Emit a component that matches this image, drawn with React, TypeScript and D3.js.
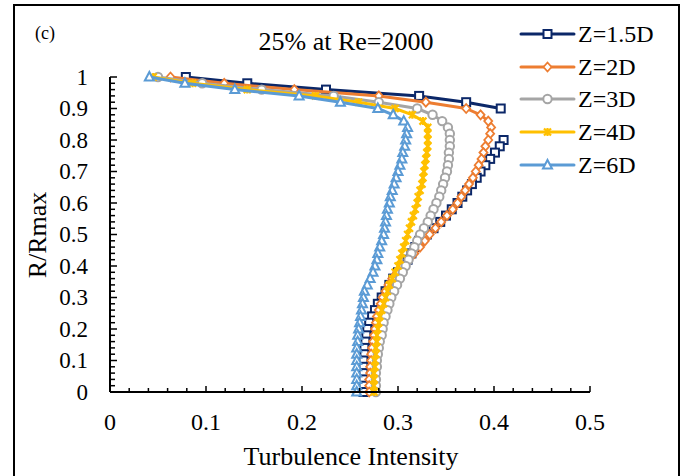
import React from "react";
import * as d3 from "d3";

const R = [1.0, 0.98, 0.96, 0.94, 0.92, 0.9, 0.88, 0.86, 0.84, 0.82, 0.8, 0.78, 0.76, 0.74, 0.72, 0.7, 0.68, 0.66, 0.64, 0.62, 0.6, 0.58, 0.56, 0.54, 0.52, 0.5, 0.48, 0.46, 0.44, 0.42, 0.4, 0.38, 0.36, 0.34, 0.32, 0.3, 0.28, 0.26, 0.24, 0.22, 0.2, 0.18, 0.16, 0.14, 0.12, 0.1, 0.08, 0.06, 0.04, 0.02, 0.0];

const Z15: (number | null)[] = [0.079, 0.143, 0.225, 0.322, 0.371, 0.407, null, null, null, null, 0.41, 0.406, 0.401, 0.396, 0.391, 0.386, 0.382, 0.377, 0.372, 0.367, 0.362, 0.356, 0.35, 0.344, 0.337, 0.33, 0.322, 0.318, 0.314, 0.31, 0.305, 0.3, 0.295, 0.291, 0.287, 0.283, 0.279, 0.276, 0.273, 0.27, 0.268, 0.267, 0.266, 0.265, 0.265, 0.264, 0.264, 0.264, 0.264, 0.264, 0.264];
const Z2: (number | null)[] = [0.063, 0.119, 0.192, 0.28, 0.329, 0.371, 0.386, 0.394, 0.397, 0.396, 0.394, 0.391, 0.389, 0.387, 0.384, 0.381, 0.378, 0.374, 0.37, 0.366, 0.362, 0.357, 0.351, 0.345, 0.339, 0.333, 0.328, 0.323, 0.317, 0.311, 0.305, 0.299, 0.294, 0.29, 0.287, 0.284, 0.282, 0.28, 0.278, 0.277, 0.276, 0.275, 0.274, 0.273, 0.272, 0.272, 0.271, 0.271, 0.27, 0.27, 0.27];
const Z3: (number | null)[] = [0.05, 0.096, 0.158, 0.233, 0.28, 0.32, 0.336, 0.346, 0.352, 0.354, 0.354, 0.354, 0.353, 0.353, 0.352, 0.351, 0.349, 0.347, 0.345, 0.343, 0.34, 0.337, 0.334, 0.331, 0.327, 0.323, 0.32, 0.317, 0.314, 0.311, 0.308, 0.305, 0.302, 0.299, 0.296, 0.293, 0.291, 0.289, 0.287, 0.285, 0.284, 0.283, 0.281, 0.28, 0.279, 0.278, 0.278, 0.277, 0.277, 0.277, 0.277];
const Z4: (number | null)[] = [0.045, 0.086, 0.143, 0.214, 0.259, 0.297, 0.315, 0.326, 0.331, 0.331, 0.331, 0.331, 0.33, 0.329, 0.328, 0.327, 0.326, 0.325, 0.323, 0.321, 0.32, 0.318, 0.316, 0.314, 0.312, 0.31, 0.308, 0.306, 0.304, 0.302, 0.3, 0.297, 0.294, 0.291, 0.289, 0.287, 0.285, 0.283, 0.281, 0.28, 0.279, 0.278, 0.278, 0.277, 0.277, 0.276, 0.276, 0.275, 0.275, 0.275, 0.275];
const Z6: (number | null)[] = [0.041, 0.078, 0.13, 0.197, 0.24, 0.279, 0.295, 0.306, 0.31, 0.309, 0.308, 0.307, 0.305, 0.304, 0.302, 0.3, 0.298, 0.296, 0.294, 0.292, 0.291, 0.289, 0.288, 0.287, 0.286, 0.285, 0.283, 0.281, 0.279, 0.278, 0.276, 0.274, 0.271, 0.268, 0.265, 0.264, 0.263, 0.262, 0.261, 0.26, 0.259, 0.258, 0.258, 0.257, 0.257, 0.257, 0.257, 0.257, 0.257, 0.257, 0.257];

const SERIES_NAMES = ["Z=1.5D", "Z=2D", "Z=3D", "Z=4D", "Z=6D"];
const SERIES_VALUES = [Z15, Z2, Z3, Z4, Z6];
const COLORS = ["#0B2768", "#ED7D31", "#A5A5A5", "#FFC000", "#5B9BD5"];
const MARKERS = ["square", "diamond", "circle", "star", "triangle"];

const X_TICKS = [0, 0.1, 0.2, 0.3, 0.4, 0.5];
const Y_TICKS = [0, 0.1, 0.2, 0.3, 0.4, 0.5, 0.6, 0.7, 0.8, 0.9, 1];

const FONT = "'Liberation Serif', 'Times New Roman', serif";

function Marker({ type, x, y, color }: { type: string; x: number; y: number; color: string }) {
  const sw = 2;
  if (type === "square") return <rect x={x - 4} y={y - 4} width={8} height={8} fill="#fff" stroke={color} strokeWidth={sw} />;
  if (type === "diamond") return <path d={`M${x},${y - 4.5}L${x + 4},${y}L${x},${y + 4.5}L${x - 4},${y}Z`} fill="#fff" stroke={color} strokeWidth={1.8} />;
  if (type === "circle") return <circle cx={x} cy={y} r={4.2} fill="#fff" stroke={color} strokeWidth={sw} />;
  if (type === "star")
    return (
      <path d={`M${x - 3.5},${y - 3.5}L${x + 3.5},${y + 3.5}M${x - 3.5},${y + 3.5}L${x + 3.5},${y - 3.5}M${x},${y - 4}L${x},${y + 4}`} stroke={color} strokeWidth={2.2} fill="none" />
    );
  return <path d={`M${x},${y - 5}L${x + 4.5},${y + 3.5}L${x - 4.5},${y + 3.5}Z`} fill="#fff" stroke={color} strokeWidth={sw} />;
}

function T({ x, y, size, anchor = "start", children, rotate = 0 }: any) {
  const tr = rotate ? `translate(${x},${y}) rotate(${rotate})` : `translate(${x},${y})`;
  return (
    <text transform={tr} fontFamily={FONT} fontSize={size} textAnchor={anchor} fill="#000">
      {children}
    </text>
  );
}

export default function App() {
  const W = 681, H = 476;
  const x = d3.scaleLinear().domain([0, 0.5]).range([110, 590]);
  const y = d3.scaleLinear().domain([0, 1]).range([392, 77]);
  const xMinor = x.ticks(25);
  const yMinor = y.ticks(50);

  const line = d3
    .line<{ v: number | null; r: number }>()
    .defined((d) => d.v != null)
    .x((d) => x(d.v as number))
    .y((d) => y(d.r));

  const legendY = [34, 67, 99, 132, 165];
  const isMajor = (t: number, step: number) => Math.abs(t / step - Math.round(t / step)) < 1e-6;

  return (
    <svg width={W} height={H} style={{ position: "absolute", left: 0, top: 0, background: "#fff" }}>
      <rect x={0} y={0} width={W} height={H} fill="#fff" />
      <rect x={14} y={5} width={665} height={490} fill="none" stroke="#000" strokeWidth={2} />
      <T x={35} y={39} size={18}>(c)</T>
      <T x={346} y={50} size={26} anchor="middle">25% at Re=2000</T>

      {SERIES_VALUES.map((vals, i) => {
        const pts = R.map((r, k) => ({ r, v: vals[k] }));
        return (
          <g key={i}>
            <path d={line(pts) || ""} fill="none" stroke={COLORS[i]} strokeWidth={3} strokeLinejoin="round" strokeLinecap="round" />
            {pts.filter((p) => p.v != null).map((p, k) => (
              <Marker key={k} type={MARKERS[i]} x={x(p.v as number)} y={y(p.r)} color={COLORS[i]} />
            ))}
          </g>
        );
      })}

      <line x1={x(0)} x2={x(0.5)} y1={y(0)} y2={y(0)} stroke="#000" strokeWidth={2} />
      <line x1={x(0)} x2={x(0)} y1={y(0)} y2={y(1)} stroke="#000" strokeWidth={2} />
      {xMinor.map((t, i) => (
        <line key={"xm" + i} x1={x(t)} x2={x(t)} y1={y(0)} y2={y(0) - (isMajor(t, 0.1) ? 6 : 4)} stroke="#000" strokeWidth={1.5} />
      ))}
      {yMinor.map((t, i) => (
        <line key={"ym" + i} x1={x(0)} x2={x(0) + (isMajor(t, 0.1) ? 7 : 5)} y1={y(t)} y2={y(t)} stroke="#000" strokeWidth={1.5} />
      ))}
      {X_TICKS.map((t, i) => (
        <T key={"xl" + i} x={x(t)} y={430} size={24} anchor="middle">{String(t)}</T>
      ))}
      {Y_TICKS.map((t, i) => (
        <T key={"yl" + i} x={88} y={y(t) + 7.5} size={23} anchor="end">{String(t)}</T>
      ))}
      <T x={351} y={465} size={26} anchor="middle">Turbulence Intensity</T>
      <T x={46} y={235} size={26} anchor="middle" rotate={-90}>R/Rmax</T>

      {SERIES_NAMES.map((n, i) => (
        <g key={"lg" + i}>
          <line x1={521} x2={574} y1={legendY[i]} y2={legendY[i]} stroke={COLORS[i]} strokeWidth={3} strokeLinecap="round" />
          <Marker type={MARKERS[i]} x={547.5} y={legendY[i]} color={COLORS[i]} />
          <T x={578} y={legendY[i] + 7.5} size={24}>{n}</T>
        </g>
      ))}
    </svg>
  );
}
